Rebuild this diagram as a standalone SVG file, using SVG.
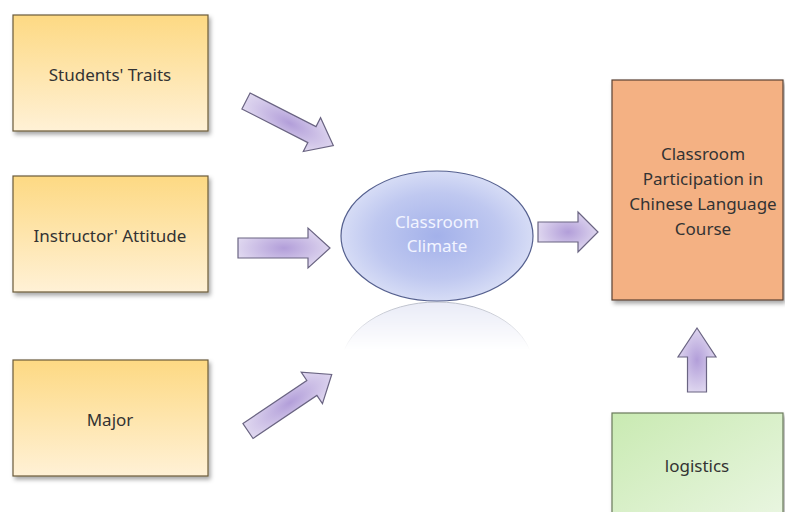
<svg xmlns="http://www.w3.org/2000/svg" width="785" height="512" viewBox="0 0 785 512">
<defs>
<linearGradient id="gY" x1="0" y1="0" x2="0" y2="1"><stop offset="0" stop-color="#fdd983"/><stop offset="1" stop-color="#fff1d6"/></linearGradient>
<linearGradient id="gG" x1="0" y1="0" x2="1" y2="1"><stop offset="0" stop-color="#c9eab2"/><stop offset="1" stop-color="#eaf6e2"/></linearGradient>
<radialGradient id="gE" cx="0.5" cy="0.5" r="0.55"><stop offset="0" stop-color="#a3b1ea"/><stop offset="0.6" stop-color="#bfc8f0"/><stop offset="1" stop-color="#dde2f7"/></radialGradient>
<radialGradient id="gA" cx="0.5" cy="0.5" r="0.6"><stop offset="0" stop-color="#b29ed9"/><stop offset="1" stop-color="#e6e0f3"/></radialGradient>
<linearGradient id="gR" x1="0" y1="0" x2="0" y2="1"><stop offset="0" stop-color="#fff" stop-opacity="1"/><stop offset="1" stop-color="#fff" stop-opacity="0"/></linearGradient>
<mask id="mR"><rect x="330" y="300" width="220" height="50" fill="url(#gR)"/></mask>
<filter id="sh" x="-10%" y="-10%" width="125%" height="130%"><feDropShadow dx="2" dy="3" stdDeviation="2" flood-color="#000" flood-opacity="0.35"/></filter>
</defs>
<style>
.box{stroke:#6b5a3a;stroke-width:1.2;filter:url(#sh)}
.t{font-family:"Noto Sans","Open Sans",sans-serif;font-size:17px;fill:#333;text-anchor:middle}
.w{fill:#f2f4ff}
.arrow{fill:url(#gA);stroke:#6a6482;stroke-width:1.2;stroke-linejoin:miter}
</style>
<g id="students">
<rect class="box" x="13" y="15" width="195" height="116" fill="url(#gY)"/>
<text class="t" x="110" y="81">Students' Traits</text>
</g>
<g id="instructor">
<rect class="box" x="13" y="176" width="195" height="116" fill="url(#gY)"/>
<text class="t" x="110" y="242">Instructor' Attitude</text>
</g>
<g id="major">
<rect class="box" x="13" y="360" width="195" height="116" fill="url(#gY)"/>
<text class="t" x="110" y="426">Major</text>
</g>
<g id="climate">
<ellipse cx="437" cy="367" rx="96" ry="65" fill="#e8eaf6" stroke="#b8bcc8" stroke-width="1" mask="url(#mR)"/>
<ellipse cx="437" cy="236" rx="96" ry="65" fill="url(#gE)" stroke="#55608f" stroke-width="1.2"/>
<text class="t w" x="437" y="228">Classroom</text>
<text class="t w" x="437" y="252">Climate</text>
</g>
<g id="participation">
<rect class="box" x="612" y="80" width="171" height="220" fill="#f4b183" style="stroke:#5a4232"/>
<text class="t" x="703" y="160">Classroom</text>
<text class="t" x="703" y="185">Participation in</text>
<text class="t" x="703" y="210">Chinese Language</text>
<text class="t" x="703" y="235">Course</text>
</g>
<g id="logistics">
<rect class="box" x="612" y="413" width="171" height="110" fill="url(#gG)" style="stroke:#6a7a5a"/>
<text class="t" x="697" y="472">logistics</text>
</g>
<g id="connectors">
<path class="arrow" transform="translate(246,101) rotate(27)" d="M0,-9 L74,-9 L74,-19 L98,0 L74,19 L74,9 L0,9 Z"/>
<path class="arrow" transform="translate(238,248)" d="M0,-10 L70,-10 L70,-20 L92,0 L70,20 L70,10 L0,10 Z"/>
<path class="arrow" transform="translate(248,431) rotate(-34)" d="M0,-9 L77,-9 L77,-19 L101,0 L77,19 L77,9 L0,9 Z"/>
<path class="arrow" transform="translate(538,232)" d="M0,-10 L40,-10 L40,-20 L60,0 L40,20 L40,10 L0,10 Z"/>
<path class="arrow" transform="translate(697,392) rotate(-90)" d="M0,-9.5 L35,-9.5 L35,-19 L64,0 L35,19 L35,9.5 L0,9.5 Z"/>
</g>
</svg>
